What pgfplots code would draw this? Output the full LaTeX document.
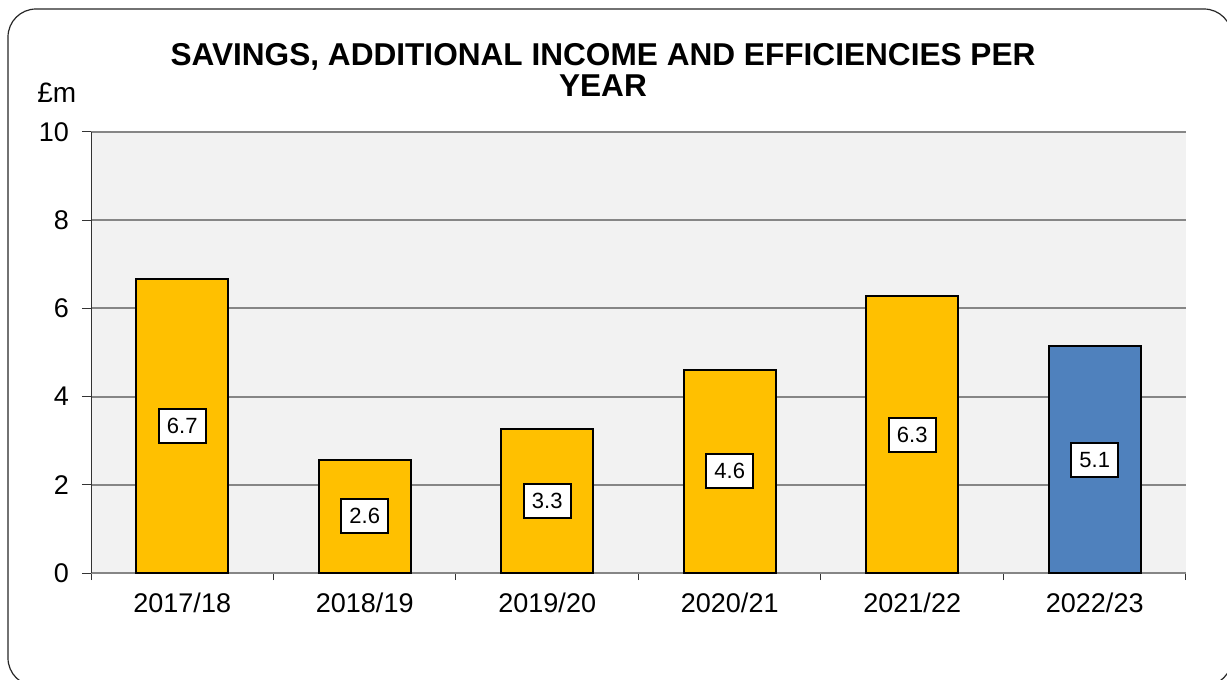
\documentclass[border=0pt]{standalone}
\usepackage{fontspec}
\setmainfont{Liberation Sans}
\usepackage{pgfplots}
\usepackage{pgfplotstable}
\pgfplotsset{compat=1.18}

\definecolor{baryellow}{HTML}{FFC000}
\definecolor{barblue}{HTML}{4F81BD}
\definecolor{plotbg}{HTML}{F2F2F2}
\definecolor{gridgray}{HTML}{868686}

% year, value (GBP m), printed label
\pgfplotstableread{
x v lab
0 6.67 6.7
1 2.57 2.6
2 3.26 3.3
3 4.61 4.6
4 6.27 6.3
5 5.14 5.1
}\savings

% reference pixel -> picture coordinate (1 px = 0.5 bp)
\newcommand\px[2]{({#1*0.5bp},{(680-#2)*0.5bp})}

\begin{document}
\begin{tikzpicture}
\useasboundingbox (0,0) rectangle (613.5bp,340bp);
\draw[black!85, line width=0.6bp, rounded corners=14bp] \px{8}{9} rectangle \px{1232}{686};

\node[anchor=base, font=\fontsize{15.8bp}{18bp}\selectfont\bfseries] at \px{603}{65}
  {SAVINGS, ADDITIONAL INCOME AND EFFICIENCIES PER};
\node[anchor=base, font=\fontsize{15.8bp}{18bp}\selectfont\bfseries] at \px{603}{96} {YEAR};
\node[anchor=base west, inner sep=0pt, font=\fontsize{14bp}{16bp}\selectfont] at \px{37}{102} {£m};

\begin{axis}[
    at={(45.5bp,53.5bp)}, anchor=south west,
    scale only axis, width=547.5bp, height=220.5bp,
    xmin=-0.5, xmax=5.5, ymin=0, ymax=10,
    xtick={0,...,5},
    xticklabels={2017/18,2018/19,2019/20,2020/21,2021/22,2022/23},
    minor xtick={-0.5,0.5,...,5.5},
    major x tick style={draw=none},
    ytick={0,2,...,10},
    tick align=outside,
    major tick length=4.5bp, minor tick length=3.5bp,
    axis x line*=bottom, axis y line*=left,
    x axis line style={draw=gridgray, line width=0.8bp, -},
    y axis line style={draw=black!80, line width=0.5bp, -},
    tick style={draw=black!80, line width=0.5bp},
    ymajorgrids, major grid style={draw=gridgray, line width=1bp},
    axis background/.style={fill=plotbg},
    ticklabel style={font=\fontsize{13.5bp}{15bp}\selectfont},
    /pgf/number format/assume math mode=true,
    yticklabel style={xshift=-3bp},
    xticklabel style={yshift=-2bp},
    clip=false,
]
\addplot[ybar, bar width=46bp, bar shift=0pt, fill=baryellow, draw=black, line width=1bp,
  skip coords between index={5}{6}] table[x=x, y=v] {\savings};
\addplot[ybar, bar width=46bp, bar shift=0pt, fill=barblue, draw=black, line width=1bp,
  skip coords between index={0}{5}] table[x=x, y=v] {\savings};
\addplot[draw=none, mark=none, nodes near coords, point meta=explicit symbolic,
  nodes near coords style={anchor=center, fill=white, draw=black, line width=1bp,
    inner sep=0pt, minimum width=23.5bp, minimum height=17bp,
    font=\fontsize{11bp}{13bp}\selectfont}]
  table[x=x, y expr=\thisrow{v}/2, meta=lab] {\savings};
\end{axis}
\end{tikzpicture}
\end{document}
